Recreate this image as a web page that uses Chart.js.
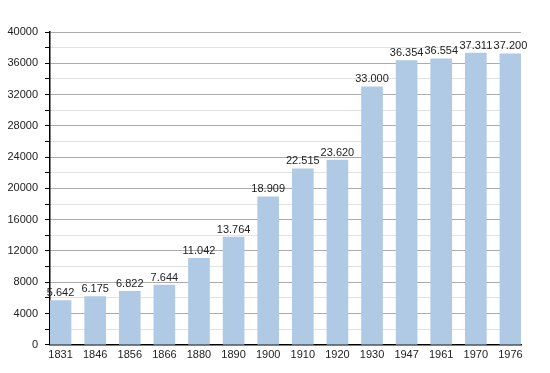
<!DOCTYPE html>
<html><head><meta charset="utf-8">
<script src="https://cdn.jsdelivr.net/npm/chart.js@4/dist/chart.umd.min.js"></script>
<style>html,body{margin:0;padding:0;background:#fff}#wrap{width:550px;height:373px}</style>
</head><body><div id="wrap"><canvas id="c" width="550" height="373"></canvas></div>
<script>
const years = ["1831","1846","1856","1866","1880","1890","1900","1910","1920","1930","1947","1961","1970","1976"];
const population = [5642,6175,6822,7644,11042,13764,18909,22515,23620,33000,36354,36554,37311,37200];
const yMax = 40000, yStep = 2000, yLabelStep = 4000;

function fmt(v){return String(v).replace(/\B(?=(\d{3})+(?!\d))/g,'.');}

const FONT = '"Liberation Sans", Arial, sans-serif';
const labelPlugin = {
  id:'vals',
  afterDatasetsDraw(chart){
    const ctx = chart.ctx;
    const meta = chart.getDatasetMeta(0);
    ctx.save();
    ctx.font = '11px ' + FONT;
    ctx.fillStyle = '#222';
    ctx.textAlign = 'center';
    ctx.textBaseline = 'bottom';
    meta.data.forEach((bar,i)=>{ ctx.fillText(fmt(population[i]), bar.x, bar.y - 2); });
    ctx.restore();
  }
};

const edge = 0.305; // half bar width in category units
new Chart(document.getElementById('c'), {
  type:'bar',
  data:{datasets:[{data:population.map((v,i)=>({x:i,y:v})), backgroundColor:'rgb(176,201,229)', borderWidth:0, barThickness:21}]},
  options:{
    responsive:false, animation:false,
    layout:{padding:{top:32,right:29,bottom:7,left:0}},
    plugins:{legend:{display:false}, tooltip:{enabled:false}},
    scales:{
      x:{
        type:'linear', min:-edge, max:years.length-1+edge, offset:false,
        afterBuildTicks(s){ s.ticks = years.map((_,i)=>({value:i})); },
        grid:{display:false, drawTicks:false},
        border:{display:true,color:'#000',width:1.5},
        ticks:{color:'#222', font:{family:FONT, size:11}, padding:4, maxRotation:0, autoSkip:false,
          callback:(v)=> years[v] !== undefined ? years[v] : ''}
      },
      y:{
        min:0, max:yMax,
        afterFit(s){s.width=50;},
        grid:{
          color:(c)=> (c.tick && c.tick.value % yLabelStep === 0) ? '#ababab' : '#e2e2e2',
          tickColor:'#000', tickLength:5, drawTicks:true
        },
        border:{display:true,color:'#000',width:1.5},
        ticks:{stepSize:yStep, autoSkip:false, color:'#222', padding:7,
          font:{family:FONT, size:11},
          callback:(v)=> v % yLabelStep === 0 ? String(v) : ''}
      }
    }
  },
  plugins:[labelPlugin]
});
</script></body></html>
